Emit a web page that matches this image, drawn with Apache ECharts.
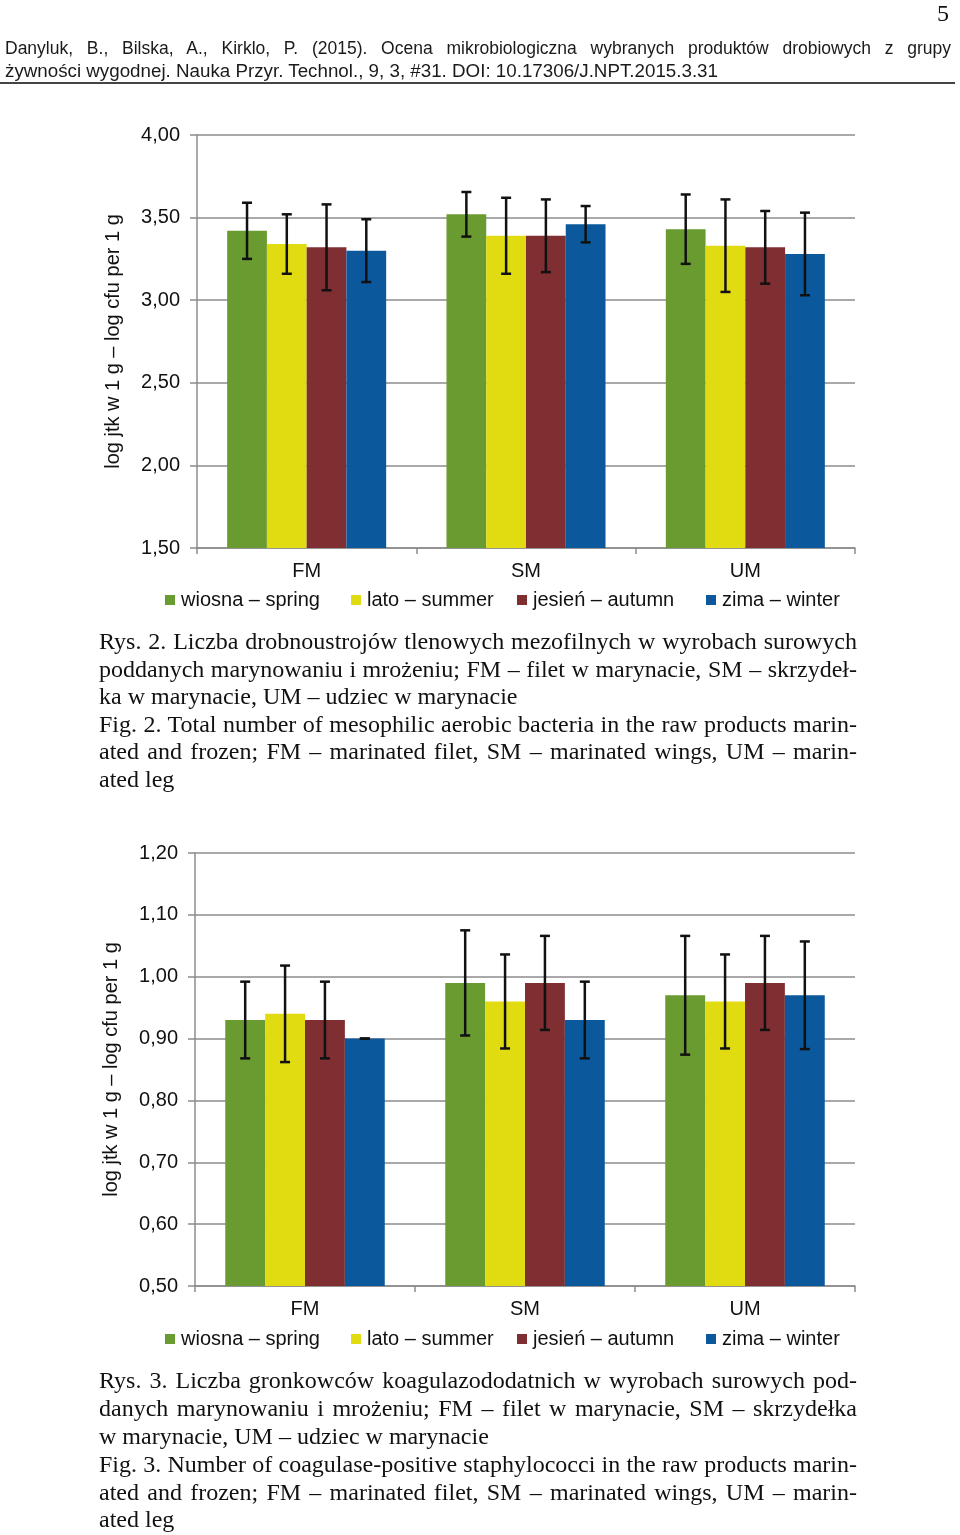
<!DOCTYPE html>
<html>
<head>
<meta charset="utf-8">
<script src="https://cdn.jsdelivr.net/npm/echarts@6/dist/echarts.min.js"></script>
<style>
html,body{margin:0;padding:0;background:#fff;}
#wrap{position:relative;width:960px;height:1535px;overflow:hidden;background:#fff;}
#chart{position:absolute;left:0;top:0;width:960px;height:1535px;}
.ln{position:absolute;white-space:nowrap;color:#111;transform-origin:0 50%;}
.cap{font-family:"Liberation Serif","Times New Roman",serif;font-size:24px;line-height:28px;}
.hdr{font-family:"Liberation Sans",Arial,sans-serif;font-size:17.5px;line-height:20px;color:#1a1a1a;}
#rule{position:absolute;left:0;top:82px;width:955px;height:2px;background:#444;}
#pg{position:absolute;left:937px;top:0px;font-family:"Liberation Serif","Times New Roman",serif;font-size:24px;line-height:26px;color:#111;}
</style>
</head>
<body>
<div id="wrap">
  <div id="chart"></div>
  <div id="pg">5</div>
  <div id="rule"></div>
</div>
<script>
// ---------- DATA ----------
const categories = ['FM', 'SM', 'UM'];
const seriesNames = ['wiosna – spring', 'lato – summer', 'jesień – autumn', 'zima – winter'];

// Fig. 2 – mesophilic aerobic bacteria (log cfu/g)
const fig2Spring = [3.42, 3.52, 3.43];
const fig2Summer = [3.34, 3.39, 3.33];
const fig2Autumn = [3.32, 3.39, 3.32];
const fig2Winter = [3.30, 3.46, 3.28];
const fig2SpringErr = [0.17, 0.135, 0.21];
const fig2SummerErr = [0.18, 0.23, 0.28];
const fig2AutumnErr = [0.26, 0.22, 0.22];
const fig2WinterErr = [0.19, 0.11, 0.25];

// Fig. 3 – coagulase-positive staphylococci (log cfu/g)
const fig3Spring = [0.93, 0.99, 0.97];
const fig3Summer = [0.94, 0.96, 0.96];
const fig3Autumn = [0.93, 0.99, 0.99];
const fig3Winter = [0.90, 0.93, 0.97];
const fig3SpringErr = [0.062, 0.085, 0.096];
const fig3SummerErr = [0.078, 0.076, 0.076];
const fig3AutumnErr = [0.062, 0.076, 0.076];
const fig3WinterErr = [0.0, 0.062, 0.087];

const fig2Axis = { min: 1.5, max: 4.0, interval: 0.5 };
const fig3Axis = { min: 0.5, max: 1.2, interval: 0.1 };
const yAxisName = 'log jtk w 1 g – log cfu per 1 g';

// ---------- TEXT ----------
const headerLines = [
  'Danyluk, B., Bilska, A., Kirklo, P. (2015). Ocena mikrobiologiczna wybranych produktów drobiowych z grupy',
  'żywności wygodnej. Nauka Przyr. Technol., 9, 3, #31. DOI: 10.17306/J.NPT.2015.3.31'
];
const caption2Lines = [
  'Rys. 2. Liczba drobnoustrojów tlenowych mezofilnych w wyrobach surowych',
  'poddanych marynowaniu i mrożeniu; FM – filet w marynacie, SM – skrzydeł-',
  'ka w marynacie, UM – udziec w marynacie',
  'Fig. 2. Total number of mesophilic aerobic bacteria in the raw products marin-',
  'ated and frozen; FM – marinated filet, SM – marinated wings, UM – marin-',
  'ated leg'
];
const caption3Lines = [
  'Rys. 3. Liczba gronkowców koagulazododatnich w wyrobach surowych pod-',
  'danych marynowaniu i mrożeniu; FM – filet w marynacie, SM – skrzydełka',
  'w marynacie, UM – udziec w marynacie',
  'Fig. 3. Number of coagulase-positive staphylococci in the raw products marin-',
  'ated and frozen; FM – marinated filet, SM – marinated wings, UM – marin-',
  'ated leg'
];

// ---------- HTML text layout ----------
const wrap = document.getElementById('wrap');
function makeLine(text, cls, left, top) {
  const d = document.createElement('div');
  d.className = 'ln ' + cls;
  d.textContent = text;
  d.style.left = left + 'px';
  d.style.top = top + 'px';
  wrap.appendChild(d);
  return d;
}
function layoutParagraph(lines, cls, left, tops, W, justifyFlags) {
  const els = lines.map((t, i) => makeLine(t, cls, left, tops[i]));
  const widths = els.map(e => e.getBoundingClientRect().width);
  let s = 1;
  els.forEach((e, i) => { if (justifyFlags[i] && widths[i] > W) s = Math.min(s, W / widths[i]); });
  els.forEach((e, i) => {
    if (s < 1) e.style.transform = 'scaleX(' + s + ')';
    if (justifyFlags[i]) {
      e.style.whiteSpace = 'normal';
      e.style.width = (W / s) + 'px';
      e.style.textAlign = 'justify';
      e.style.textAlignLast = 'justify';
    }
  });
}
// header
(function () {
  layoutParagraph([headerLines[0]], 'hdr', 5, [38], 946, [true]);
  const l2 = makeLine(headerLines[1], 'hdr', 5, 61);
  const w2 = l2.getBoundingClientRect().width;
  l2.style.transform = 'scaleX(' + (713 / w2) + ')';
})();
layoutParagraph(caption2Lines, 'cap', 99, [627, 655, 682, 710, 737, 765], 758, [true, true, false, true, true, false]);
layoutParagraph(caption3Lines, 'cap', 99, [1366, 1394, 1422, 1450, 1478, 1505], 758, [true, true, false, true, true, false]);

// ---------- CHART ----------
const FONT = '"Liberation Sans", Arial, sans-serif';
const GRID_COLOR = '#8c8c8c';
const TEXT_COLOR = '#111';
const colors = ['#6a9b30', '#e1dc12', '#7f2e31', '#0b599c'];
const GAP = 0.275;

const fig2Values = [fig2Spring, fig2Summer, fig2Autumn, fig2Winter];
const fig2Errs = [fig2SpringErr, fig2SummerErr, fig2AutumnErr, fig2WinterErr];
const fig3Values = [fig3Spring, fig3Summer, fig3Autumn, fig3Winter];
const fig3Errs = [fig3SpringErr, fig3SummerErr, fig3AutumnErr, fig3WinterErr];

function fmt(v) { return v.toFixed(2).replace('.', ','); }

function makeErr(si, n) {
  return function (params, api) {
    const k = api.value(0), v = api.value(1), e = api.value(2);
    const band = api.size([1, 0])[0];
    const gw = band * (1 - GAP);
    const bw = gw / n;
    const cx = api.coord([k, v])[0] - gw / 2 + (si + 0.5) * bw;
    const yt = api.coord([k, v + e])[1];
    const yb = api.coord([k, v - e])[1];
    const h = 5;
    const style = { stroke: '#111', lineWidth: 2.5 };
    return {
      type: 'group',
      children: [
        { type: 'line', shape: { x1: cx, y1: yt, x2: cx, y2: yb }, style: style },
        { type: 'line', shape: { x1: cx - h, y1: yt, x2: cx + h, y2: yt }, style: style },
        { type: 'line', shape: { x1: cx - h, y1: yb, x2: cx + h, y2: yb }, style: style }
      ]
    };
  };
}

function xAxisFor(gi) {
  return {
    type: 'category', gridIndex: gi, data: categories,
    axisLine: { show: true, lineStyle: { color: GRID_COLOR, width: 1.5 } },
    axisTick: { show: true, alignWithLabel: false, interval: 0, length: 6, lineStyle: { color: GRID_COLOR, width: 1.5 } },
    axisLabel: { fontSize: 20, color: TEXT_COLOR, fontFamily: FONT, margin: 13 }
  };
}
function yAxisFor(gi, ax) {
  return {
    type: 'value', gridIndex: gi, min: ax.min, max: ax.max, interval: ax.interval,
    name: yAxisName, nameLocation: 'middle', nameGap: 74,
    nameTextStyle: { fontSize: 20, color: TEXT_COLOR, fontFamily: FONT },
    axisLine: { show: true, lineStyle: { color: GRID_COLOR, width: 1.5 } },
    axisTick: { show: true, length: 7, lineStyle: { color: GRID_COLOR, width: 1.5 } },
    splitLine: { show: true, lineStyle: { color: GRID_COLOR, width: 1.5 } },
    axisLabel: { fontSize: 20, color: TEXT_COLOR, fontFamily: FONT, margin: 17, formatter: fmt }
  };
}

const series = [];
[[fig2Values, fig2Errs], [fig3Values, fig3Errs]].forEach(function (pair, gi) {
  const vals = pair[0], errs = pair[1];
  vals.forEach(function (arr, i) {
    series.push({
      type: 'bar', name: seriesNames[i], xAxisIndex: gi, yAxisIndex: gi,
      data: arr, itemStyle: { color: colors[i] },
      barGap: '0%', barCategoryGap: (GAP * 100) + '%', z: 2
    });
  });
  vals.forEach(function (arr, i) {
    series.push({
      type: 'custom', xAxisIndex: gi, yAxisIndex: gi, silent: true, z: 5,
      dimensions: ['cat', 'val', 'err'],
      encode: { x: 0, y: 1 },
      data: arr.map(function (v, k) { return [k, v, errs[i][k]]; }),
      renderItem: makeErr(i, vals.length)
    });
  });
});

const legendLefts = [165, 351, 517, 706];
const legendTops = [590, 1329];
const legends = [];
legendTops.forEach(function (t) {
  seriesNames.forEach(function (nm, i) {
    legends.push({
      data: [{ name: nm, icon: 'rect' }], left: legendLefts[i], top: t, padding: 0,
      itemWidth: 10, itemHeight: 10, selectedMode: false,
      textStyle: { fontSize: 20, color: TEXT_COLOR, fontFamily: FONT, padding: [0, 0, 0, 1] }
    });
  });
});

const chart = echarts.init(document.getElementById('chart'), null, { renderer: 'canvas' });
chart.setOption({
  animation: false,
  backgroundColor: 'transparent',
  grid: [
    { left: 197, top: 135, width: 658, height: 413, containLabel: false },
    { left: 195, top: 853, width: 660, height: 433, containLabel: false }
  ],
  xAxis: [xAxisFor(0), xAxisFor(1)],
  yAxis: [yAxisFor(0, fig2Axis), yAxisFor(1, fig3Axis)],
  legend: legends,
  series: series
});
</script>
</body>
</html>
